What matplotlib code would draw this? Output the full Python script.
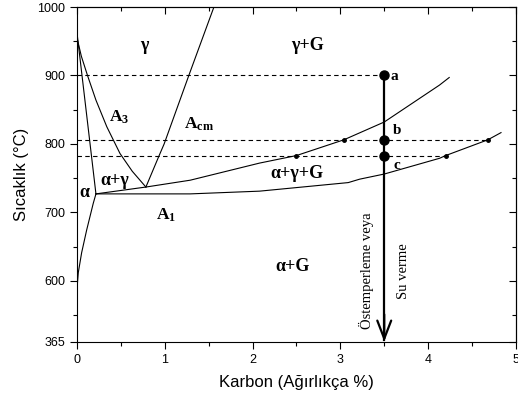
import matplotlib.pyplot as plt
import numpy as np

plt.rcParams['font.family'] = 'Liberation Sans'
plt.rcParams['mathtext.fontset'] = 'custom'
plt.rcParams['mathtext.rm'] = 'Liberation Serif'
plt.rcParams['mathtext.bf'] = 'Liberation Serif:bold'

# phase boundaries (carbon %, temperature C)
alpha_x = [-0.005, 0.216]
alpha_y = [968, 727]

alpha_low_x = [0.216, 0.185, 0.11, 0.053, 0.015, 0.0]
alpha_low_y = [727, 713, 674, 641, 612, 588]

a3_x = [0.0, 0.05, 0.12, 0.216, 0.34, 0.49, 0.63, 0.785]
a3_y = [955, 928, 900, 864, 825, 786, 760, 737]

acm_x = [0.785, 0.936, 0.993, 1.274, 1.56]
acm_y = [737, 783, 800, 900, 1000]

upper_x = [0.216, 0.785, 1.29, 2.08, 2.5, 3.04, 3.5, 4.13, 4.24]
upper_y = [727, 737, 747, 772, 783, 806, 832, 886, 897]

a1_x = [0.216, 1.29, 2.08, 3.09, 3.22, 3.5, 4.13, 4.2, 4.68, 4.83]
a1_y = [727, 727, 731, 743.5, 748.5, 756, 779, 783, 806, 816.5]

small_x = [2.5, 3.04, 4.2, 4.68]
small_y = [783, 806, 783, 806]

# treatment path
path_x = 3.5
pts_y = [900, 806, 783]
pt_labels = ['a', 'b', 'c']
dash_y = [900, 806, 783]
dash_end = [3.5, 4.68, 4.2]

y_bottom = 511
yticks = [511, 600, 700, 800, 900, 1000]
ytick_labels = ['365', '600', '700', '800', '900', '1000']

fig = plt.figure(figsize=(5.18, 4.03), dpi=100)
ax = fig.add_axes([0.1486, 0.152, 0.8474, 0.8306])

lw = 0.8
ax.plot(alpha_x, alpha_y, color='k', lw=lw)
ax.plot(alpha_low_x, alpha_low_y, color='k', lw=lw)
ax.plot(a3_x, a3_y, color='k', lw=lw)
ax.plot(acm_x, acm_y, color='k', lw=lw)
ax.plot(upper_x, upper_y, color='k', lw=lw)
ax.plot(a1_x, a1_y, color='k', lw=lw)
ax.plot(small_x, small_y, 'o', color='k', ms=2.5)

for yy, xe in zip(dash_y, dash_end):
    ax.plot([0, xe], [yy, yy], color='k', lw=0.8, linestyle=(0, (4, 3)))

ax.plot([path_x, path_x], [900, y_bottom + 3], color='k', lw=1.6)
ax.annotate('', xy=(path_x, y_bottom), xytext=(path_x, y_bottom + 40),
            arrowprops=dict(arrowstyle='->,head_length=1.3,head_width=0.5',
                            color='k', lw=1.6, shrinkA=0, shrinkB=0))
ax.plot([path_x] * 3, pts_y, 'o', color='k', ms=6.5)
lab_pos = [(3.62, 898), (3.65, 820), (3.64, 769)]
for t, (lx, ly) in zip(pt_labels, lab_pos):
    ax.text(lx, ly, t, family='Liberation Serif', weight='bold', fontsize=11,
            ha='center', va='center')

serif = dict(family='Liberation Serif', weight='bold', fontsize=13,
             ha='center', va='center')
ax.text(0.77, 944, 'γ', **serif)
ax.text(2.63, 944, 'γ+G', **serif)
ax.text(0.48, 839, r'$\mathbf{A_{3}}$', fontsize=12.5, ha='center', va='center')
ax.text(1.39, 828, r'$\mathbf{A_{cm}}$', fontsize=12.5, ha='center', va='center')
ax.text(0.43, 746, 'α+γ', **serif)
ax.text(0.08, 729, 'α', **serif)
ax.text(1.01, 696, r'$\mathbf{A_{1}}$', fontsize=12.5, ha='center', va='center')
ax.text(2.51, 757, 'α+γ+G', **serif)
ax.text(2.46, 621, 'α+G', **serif)
ax.text(3.30, 614, 'Östemperleme veya', family='Liberation Serif', fontsize=10.5,
        rotation=90, ha='center', va='center')
ax.text(3.72, 614, 'Su verme', family='Liberation Serif', fontsize=10.5,
        rotation=90, ha='center', va='center')

ax.set_xlim(0, 5)
ax.set_ylim(y_bottom, 1000)
ax.set_xticks([0, 1, 2, 3, 4, 5])
ax.set_xticks(np.arange(0.5, 5, 1), minor=True)
ax.set_yticks(yticks)
ax.set_yticklabels(ytick_labels)
ax.set_yticks([550, 650, 750, 850, 950], minor=True)
ax.tick_params(which='both', labelsize=9, width=0.8)
ax.tick_params(which='major', length=5)
ax.tick_params(which='minor', length=3)

# inward ticks on the top and right frame
ax2 = ax.secondary_xaxis('top')
ax2.set_xticks([0, 1, 2, 3, 4, 5], labels=[])
ax2.set_xticks(np.arange(0.5, 5, 1), minor=True)
ax2.tick_params(which='both', direction='in', width=0.8)
ax2.tick_params(which='major', length=5)
ax2.tick_params(which='minor', length=3)
ax3 = ax.secondary_yaxis('right')
ax3.set_yticks(yticks, labels=[])
ax3.set_yticks([550, 650, 750, 850, 950], minor=True)
ax3.tick_params(which='both', direction='in', width=0.8)
ax3.tick_params(which='major', length=5)
ax3.tick_params(which='minor', length=3)

ax.set_xlabel('Karbon (Ağırlıkça %)', fontsize=12, labelpad=7)
ax.set_ylabel('Sıcaklık (°C)', fontsize=12, labelpad=6)

fig.savefig('out.png', dpi=100)
